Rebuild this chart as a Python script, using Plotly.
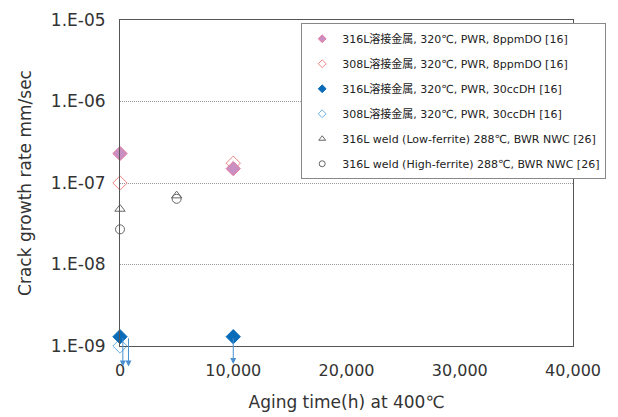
import math
import plotly.graph_objects as go

# ---- data ----
s1_name = "316L溶接金属, 320℃, PWR, 8ppmDO [16]"
s1_x = [0, 10000]
s1_y = [2.3e-7, 1.5e-7]

s2_name = "308L溶接金属, 320℃, PWR, 8ppmDO [16]"
s2_x = [0, 10000]
s2_y = [1.0e-7, 1.75e-7]

s3_name = "316L溶接金属, 320℃, PWR, 30ccDH [16]"
s3_x = [0, 10000]
s3_y = [1.3e-9, 1.3e-9]

s4_name = "308L溶接金属, 320℃, PWR, 30ccDH [16]"
s4_x = [0]
s4_y = [1.0e-9]

s5_name = "316L weld (Low-ferrite) 288℃, BWR NWC [26]"
s5_x = [0, 5000]
s5_y = [4.8e-8, 7.0e-8]

s6_name = "316L weld (High-ferrite) 288℃, BWR NWC [26]"
s6_x = [0, 5000]
s6_y = [2.7e-8, 6.4e-8]

# "less than" arrows
arrow_x = [250, 750, 10000]
arrow_from = [1.3e-9, 1.3e-9, 1.3e-9]
arrow_to = [5.6e-10, 5.6e-10, 6.0e-10]

ytick_vals = [1e-9, 1e-8, 1e-7, 1e-6, 1e-5]
ytick_text = ["1.E-09", "1.E-08", "1.E-07", "1.E-06", "1.E-05"]
xtick_vals = [0, 10000, 20000, 30000, 40000]
xtick_text = ["0", "10,000", "20,000", "30,000", "40,000"]

FONT = "DejaVu Sans, Noto Sans CJK JP, sans-serif"

styles = [
    dict(symbol="diamond", color="#C98FC2", line=dict(color="#E77A9C", width=1), size=11),
    dict(symbol="diamond-open", color="#F08585", line=dict(color="#F08585", width=1), size=11),
    dict(symbol="diamond", color="#0A6CB8", line=dict(color="#0A6CB8", width=1), size=11),
    dict(symbol="diamond-open", color="#6AB0E4", line=dict(color="#6AB0E4", width=1), size=11),
    dict(symbol="triangle-up-open", color="#666666", line=dict(color="#666666", width=1), size=9),
    dict(symbol="circle-open", color="#666666", line=dict(color="#666666", width=1), size=9),
]
series = [
    (s1_name, s1_x, s1_y),
    (s2_name, s2_x, s2_y),
    (s3_name, s3_x, s3_y),
    (s4_name, s4_x, s4_y),
    (s5_name, s5_x, s5_y),
    (s6_name, s6_x, s6_y),
]

fig = go.Figure()

order = [4, 5, 3, 1, 2, 0]
for i in order:
    name, xs, ys = series[i]
    st = styles[i]
    fig.add_trace(go.Scatter(
        x=xs, y=ys, mode="markers", name=name, showlegend=False,
        cliponaxis=False,
        marker=dict(symbol=st["symbol"], size=st["size"], color=st["color"],
                    line=st["line"]),
    ))

for i, (name, xs, ys) in enumerate(series):
    st = styles[i]
    fig.add_trace(go.Scatter(
        x=[None], y=[None], mode="markers", name=name, legendgroup="g%d" % i,
        marker=dict(symbol=st["symbol"], size=6, color=st["color"], line=st["line"]),
    ))

for ax_, yf, yt in zip(arrow_x, arrow_from, arrow_to):
    fig.add_annotation(
        x=ax_, y=math.log10(yt), ax=ax_, ay=math.log10(yf),
        xref="x", yref="y", axref="x", ayref="y",
        showarrow=True, arrowhead=2, arrowsize=1.2, arrowwidth=1,
        arrowcolor="#4A90D0", text="",
    )

fig.update_layout(
    width=618, height=417,
    margin=dict(l=120, r=45, t=20, b=71),
    paper_bgcolor="white", plot_bgcolor="white",
    font=dict(family=FONT, color="#222222"),
    showlegend=True,
    legend=dict(
        x=0.4, y=0.99, xanchor="left", yanchor="top",
        bgcolor="white", bordercolor="#888888", borderwidth=1,
        font=dict(family=FONT, size=11, color="#222222"),
        traceorder="grouped", tracegroupgap=6,
        itemwidth=30,
    ),
    xaxis=dict(
        range=[0, 40000], tickvals=xtick_vals, ticktext=xtick_text,
        automargin=False,
        showgrid=False, zeroline=False,
        showline=True, linecolor="#555555", linewidth=1, mirror=True,
        ticks="", ticklabelstandoff=10, tickfont=dict(size=16, color="#333333"),
        title=dict(text="Aging time(h) at 400℃", font=dict(size=17, color="#333333"), standoff=16),
    ),
    yaxis=dict(
        type="log", range=[-9, -5], tickvals=ytick_vals, ticktext=ytick_text,
        automargin=False,
        showgrid=True, gridcolor="#999999", griddash="1px,1px", gridwidth=1,
        zeroline=False,
        showline=True, linecolor="#555555", linewidth=1, mirror=True,
        ticks="", ticklabelstandoff=10, tickfont=dict(size=17, color="#333333"),
        title=dict(text="Crack growth rate mm/sec", font=dict(size=17, color="#333333"), standoff=14),
    ),
)

fig.write_html("out.html")
